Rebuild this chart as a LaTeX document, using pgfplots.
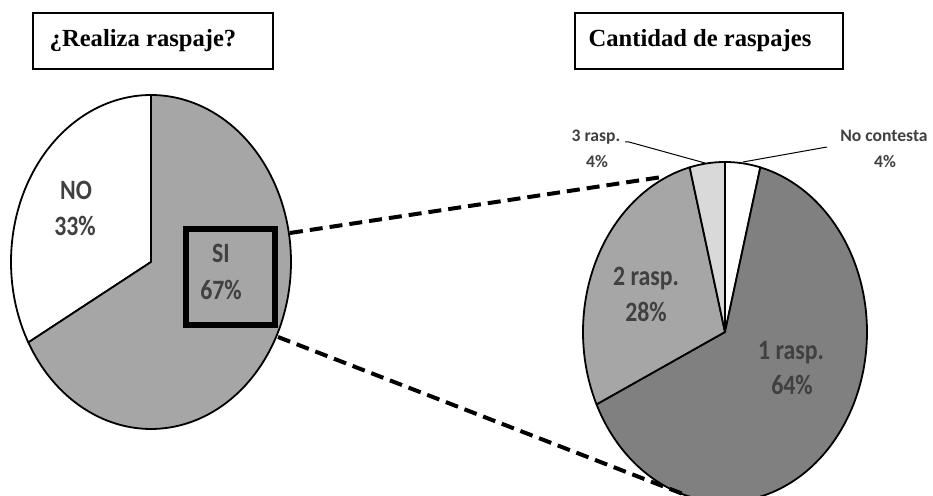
\documentclass[border=0pt]{standalone}
\usepackage{pgfplots}
\pgfplotsset{compat=1.18}
\usepackage{pgfplotstable}
\usepackage{graphicx}
\usepackage{fontspec}
\setmainfont{Liberation Serif}
\newfontfamily\calfont{Carlito}

\definecolor{gA}{HTML}{A6A6A6}
\definecolor{gB}{HTML}{808080}
\definecolor{gC}{HTML}{D9D9D9}
\definecolor{lab}{HTML}{404040}
\definecolor{labs}{HTML}{404040}

\pgfplotstableread{
part value
NO 33
SI 67
}\realiza
\pgfplotstableread{
part value
NoContesta 4
1rasp 64
2rasp 28
3rasp 4
}\cantidad

\newcommand{\bl}[1]{\scalebox{0.85}[1]{#1}}

\begin{document}
\begin{tikzpicture}
\pgfplotstablegetelem{0}{value}\of\realiza \edef\vNO{\pgfplotsretval}
\pgfplotstablegetelem{1}{value}\of\realiza \edef\vSI{\pgfplotsretval}
\pgfplotstablegetelem{0}{value}\of\cantidad \edef\vNC{\pgfplotsretval}
\pgfplotstablegetelem{1}{value}\of\cantidad \edef\vRone{\pgfplotsretval}
\pgfplotstablegetelem{2}{value}\of\cantidad \edef\vRtwo{\pgfplotsretval}
\pgfplotstablegetelem{3}{value}\of\cantidad \edef\vRthree{\pgfplotsretval}
\pgfmathsetmacro\aNO{90+3.6*\vNO}
\pgfmathsetmacro\aSI{\aNO+3.6*\vSI}
\pgfmathsetmacro\bA{90-3.6*\vNC}
\pgfmathsetmacro\bB{\bA-3.6*\vRone}
\pgfmathsetmacro\bC{\bB-3.6*\vRtwo}
\pgfmathsetmacro\bD{\bC-3.6*\vRthree}
\begin{axis}[
  width=466.5pt, height=248pt, scale only axis, hide axis,
  xmin=0, xmax=933, ymin=0, ymax=496, y dir=reverse,
]
% left pie
\addplot[fill=white, draw=black, line width=0.9pt, line join=round, domain=90:\aNO, samples=80, variable=\t]
  ({151+140*cos(\t)},{262-167*sin(\t)}) -- (axis cs:151,262) -- cycle;
\addplot[fill=gA, draw=black, line width=0.9pt, line join=round, domain=\aNO:\aSI, samples=120, variable=\t]
  ({151+140*cos(\t)},{262-167*sin(\t)}) -- (axis cs:151,262) -- cycle;
% right pie
\addplot[fill=white, draw=black, line width=0.9pt, line join=round, domain=\bA:90, samples=30, variable=\t]
  ({725+142*cos(\t)},{332-170*sin(\t)}) -- (axis cs:725,332) -- cycle;
\addplot[fill=gB, draw=black, line width=0.9pt, line join=round, domain=\bB:\bA, samples=140, variable=\t]
  ({725+142*cos(\t)},{332-170*sin(\t)}) -- (axis cs:725,332) -- cycle;
\addplot[fill=gA, draw=black, line width=0.9pt, line join=round, domain=\bC:\bB, samples=80, variable=\t]
  ({725+142*cos(\t)},{332-170*sin(\t)}) -- (axis cs:725,332) -- cycle;
\addplot[fill=gC, draw=black, line width=0.9pt, line join=round, domain=\bD:\bC, samples=30, variable=\t]
  ({725+142*cos(\t)},{332-170*sin(\t)}) -- (axis cs:725,332) -- cycle;

% connecting dashed lines
\draw[line width=2pt, dash pattern=on 6.5pt off 3.5pt] (axis cs:290,233) -- (axis cs:662,177);
\draw[line width=2pt, dash pattern=on 6.5pt off 3.5pt] (axis cs:278,337) -- (axis cs:683,494);
% square
\draw[line width=3pt] (axis cs:186,229) rectangle (axis cs:275,325);

% leader lines
\draw[line width=0.5pt] (axis cs:625,142) -- (axis cs:629,142) -- (axis cs:705,163);
\draw[line width=0.5pt] (axis cs:827,147) -- (axis cs:743,162);

% title boxes
\draw[line width=0.8pt] (axis cs:33,13) rectangle (axis cs:273,69);
\draw[line width=0.8pt] (axis cs:575,13) rectangle (axis cs:843,69);
\node[anchor=base, inner sep=0pt, font=\bfseries\fontsize{12.3}{14}\selectfont] at (axis cs:143,47) {¿Realiza raspaje?};
\node[anchor=base, inner sep=0pt, font=\bfseries\fontsize{12.3}{14}\selectfont] at (axis cs:700,47) {Cantidad de raspajes};

% pie labels
\tikzset{big/.style={anchor=base, inner sep=0pt, text=lab, font=\calfont\bfseries\fontsize{14}{16}\selectfont},
         small/.style={anchor=base, inner sep=0pt, text=labs, font=\calfont\bfseries\fontsize{8.8}{11}\selectfont}}
\node[big] at (axis cs:76,200) {\bl{NO}};
\node[big] at (axis cs:75,236) {\bl{33\%}};
\node[big] at (axis cs:221,263) {\bl{SI}};
\node[big] at (axis cs:221,300) {\bl{67\%}};
\node[big] at (axis cs:646,286) {\bl{2 rasp.}};
\node[big] at (axis cs:646,322) {\bl{28\%}};
\node[big] at (axis cs:791,360) {\bl{1 rasp.}};
\node[big] at (axis cs:792,395) {\bl{64\%}};
\node[small] at (axis cs:596,142) {3 rasp.};
\node[small] at (axis cs:597,168) {4\%};
\node[small] at (axis cs:884,142) {No contesta};
\node[small] at (axis cs:885,168) {4\%};
\end{axis}
\pgfresetboundingbox
\path[use as bounding box] (current axis.south west) rectangle (current axis.north east);
\end{tikzpicture}
\end{document}
